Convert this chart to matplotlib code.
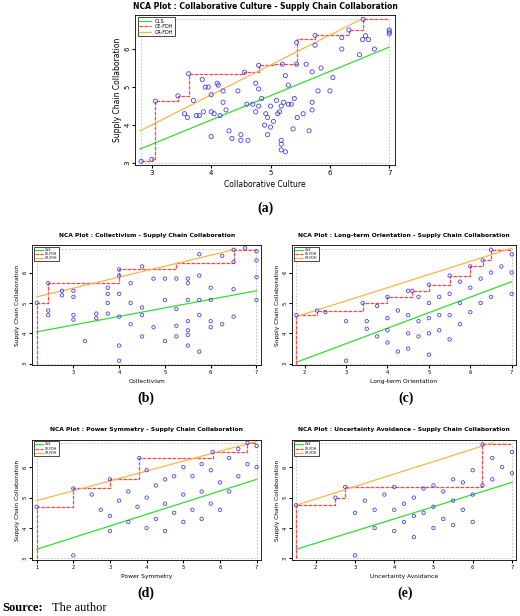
import matplotlib
matplotlib.use("Agg")
import matplotlib.pyplot as plt
import numpy as np

# ---- data ----
a_x = [2.82,3.0,3.06,3.44,3.62,3.55,3.6,3.7,3.75,3.8,3.85,3.87,3.9,3.95,4.0,4.0,4.0,4.05,4.1,4.12,4.15,4.2,4.2,4.25,4.3,4.35,4.45,4.5,4.5,4.56,4.6,4.62,4.7,4.75,4.75,4.8,4.8,4.8,4.85,4.9,4.92,4.95,4.95,5.0,5.0,5.05,5.1,5.12,5.15,5.18,5.18,5.18,5.18,5.2,5.22,5.25,5.25,5.3,5.3,5.35,5.38,5.4,5.44,5.44,5.45,5.55,5.6,5.65,5.7,5.7,5.7,5.75,5.75,5.8,5.85,6.0,6.05,6.2,6.2,6.32,6.5,6.55,6.56,6.6,6.65,6.75,7.0,7.0,7.0]
a_y = [3.05,3.1,4.63,4.77,5.35,4.3,4.2,4.65,4.25,4.25,5.2,4.35,5.0,5.0,4.8,4.35,3.7,4.3,5.1,5.05,4.25,4.9,4.6,4.4,3.85,3.65,4.9,3.75,3.6,5.39,4.55,3.6,4.55,5.1,4.35,5.57,4.95,4.5,4.7,4.0,4.3,4.2,3.75,4.5,3.95,4.1,4.65,4.3,4.35,4.5,3.5,3.35,3.6,5.6,4.6,5.3,3.3,5.05,4.55,4.55,3.9,4.7,5.6,6.17,4.2,4.3,5.6,3.85,5.4,4.4,4.6,6.36,6.1,4.9,5.5,4.9,5.25,6.3,6.0,6.5,5.85,6.25,6.78,6.35,6.25,6.0,6.4,6.45,6.5]
a_step_x = [2.82,3.0,3.06,3.44,3.62,4.56,4.8,5.05,5.44,5.75,6.32,6.56,7.0]
a_step_y = [3.05,3.1,4.63,4.77,5.35,5.39,5.57,5.6,6.27,6.36,6.5,6.78,6.78]
a_ols = ([2.8,7.0],[3.37,6.05]); a_cr = ([2.8,6.55],[3.85,6.8])

b_x = [2.2,2.45,2.45,2.45,2.75,2.75,3.0,3.0,3.0,3.0,3.25,3.5,3.5,3.75,3.75,3.75,3.75,4.0,4.0,4.0,4.0,4.0,4.0,4.25,4.25,4.25,4.5,4.5,4.5,4.5,4.75,4.75,5.0,5.0,5.0,5.25,5.25,5.25,5.25,5.5,5.5,5.5,5.5,5.5,5.5,5.5,5.75,5.75,5.75,5.75,5.75,6.0,6.0,6.0,6.0,6.25,6.25,6.5,6.5,6.5,6.5,6.75,7.0,7.0,7.0,7.0]
b_y = [5.0,5.65,4.75,4.6,5.4,5.25,5.4,5.2,4.6,4.45,3.75,4.65,4.5,5.5,5.3,5.0,4.65,6.1,5.9,5.3,4.55,3.6,3.1,5.65,5.0,4.3,6.2,4.85,4.6,3.9,5.8,4.2,5.8,5.1,3.75,5.8,4.8,4.25,3.9,5.8,5.65,5.1,4.4,4.1,3.95,3.6,6.6,5.9,5.1,4.6,3.4,5.5,5.1,4.4,4.2,6.55,4.3,6.75,6.35,5.45,4.55,6.8,6.7,6.4,5.85,5.1]
b_step_x = [2.2,2.2,2.45,4.0,5.25,6.5,7.0]
b_step_y = [3.0,5.0,5.65,6.1,6.3,6.75,6.75]
b_ols = ([2.2,7.0],[4.05,5.4]); b_cr = ([2.2,6.5],[5.2,6.75])

c_x = [1.8,2.3,2.5,3.0,3.0,3.4,3.5,3.5,3.75,3.75,4.0,4.0,4.0,4.0,4.25,4.25,4.5,4.5,4.5,4.5,4.6,4.75,4.75,4.75,5.0,5.0,5.0,5.0,5.0,5.25,5.25,5.25,5.5,5.5,5.5,5.5,5.75,5.75,5.75,6.0,6.0,6.0,6.25,6.25,6.3,6.5,6.5,6.5,6.75,7.0,7.0,7.0]
c_y = [4.6,4.75,4.7,3.1,4.4,5.0,4.4,4.15,4.9,3.9,5.2,4.5,4.1,3.7,4.75,3.4,5.4,4.6,4.0,3.5,5.4,5.2,4.4,3.9,5.6,5.0,4.5,4.0,3.3,5.2,4.6,4.1,5.9,5.3,4.6,3.8,5.7,5.0,4.3,6.2,5.5,4.7,5.8,5.0,6.4,6.75,6.0,5.2,6.2,6.6,6.0,5.3]
c_step_x = [1.8,1.8,2.3,3.4,4.0,4.6,5.0,5.5,6.0,6.3,6.5,7.0]
c_step_y = [3.0,4.6,4.75,5.0,5.2,5.4,5.6,5.9,6.2,6.4,6.75,6.75]
c_ols = ([1.8,7.0],[3.05,5.7]); c_cr = ([1.8,7.0],[4.55,6.8])

d_x = [1.0,2.0,2.0,2.5,2.75,3.0,3.0,3.0,3.25,3.5,3.5,3.75,3.8,4.0,4.0,4.0,4.25,4.25,4.5,4.5,4.5,4.75,4.75,5.0,5.0,5.0,5.25,5.25,5.5,5.5,5.5,5.75,5.75,5.8,6.0,6.0,6.25,6.25,6.5,6.5,6.75,6.75,7.0,7.0]
d_y = [4.7,5.3,3.1,5.1,4.6,5.6,4.4,3.9,4.9,5.2,4.2,4.7,6.3,5.9,5.0,4.0,5.4,4.3,5.6,4.8,3.9,5.7,4.5,6.0,5.1,4.2,5.7,4.6,6.1,5.2,4.3,5.9,4.8,6.5,5.5,4.6,6.3,5.2,6.6,5.7,6.8,6.1,6.7,6.0]
d_step_x = [1.0,1.0,2.0,3.0,3.8,5.8,6.75,7.0]
d_step_y = [3.0,4.7,5.3,5.6,6.3,6.5,6.8,6.8]
d_ols = ([1.0,7.0],[3.3,5.6]); d_cr = ([1.0,7.0],[4.9,6.85])

e_x = [1.5,2.5,2.75,3.0,3.0,3.25,3.5,3.5,3.75,4.0,4.0,4.0,4.25,4.25,4.5,4.5,4.5,4.75,4.75,5.0,5.0,5.0,5.25,5.25,5.5,5.5,5.5,5.75,5.75,6.0,6.0,6.0,6.25,6.25,6.5,6.5,6.75,7.0,7.0]
e_y = [4.75,5.0,5.35,4.5,3.1,4.9,4.6,4.0,5.1,5.35,4.6,3.9,4.8,4.2,5.0,4.4,3.7,5.3,4.5,5.4,4.7,4.0,5.2,4.3,5.6,4.9,4.1,5.5,4.6,5.9,5.1,4.2,6.75,5.4,6.3,5.6,6.0,6.5,5.8]
e_step_x = [1.5,1.5,2.5,2.75,6.25,7.0]
e_step_y = [3.0,4.75,5.0,5.35,6.75,6.75]
e_ols = ([1.5,7.0],[3.3,5.5]); e_cr = ([1.5,6.5],[4.75,6.8])

panels = [
    ("Collaborative Culture", a_x, a_y, a_step_x, a_step_y, a_ols, a_cr, [3,4,5,6,7], (2.72,7.1), "(a)"),
    ("Collectivism", b_x, b_y, b_step_x, b_step_y, b_ols, b_cr, [3,4,5,6,7], (2.1,7.1), "(b)"),
    ("Long-term Orientation", c_x, c_y, c_step_x, c_step_y, c_ols, c_cr, [2,3,4,5,6,7], (1.7,7.1), "(c)"),
    ("Power Symmetry", d_x, d_y, d_step_x, d_step_y, d_ols, d_cr, [1,2,3,4,5,6,7], (0.88,7.12), "(d)"),
    ("Uncertainty Avoidance", e_x, e_y, e_step_x, e_step_y, e_ols, e_cr, [2,3,4,5,6,7], (1.4,7.1), "(e)"),
]

fig = plt.figure(figsize=(5.2, 6.16), dpi=100)
rects = [(0.26,0.732,0.50,0.244),(0.062,0.407,0.44,0.195),(0.562,0.407,0.43,0.195),
         (0.062,0.091,0.44,0.195),(0.562,0.091,0.43,0.195)]
labpos = [(0.51,0.662),(0.28,0.354),(0.78,0.354),(0.28,0.037),(0.78,0.037)]

for i,(name,x,y,sx,sy,ols,cr,xt,xl,lab) in enumerate(panels):
    big = i == 0
    fs = 5.0 if big else 3.8
    ax = fig.add_axes(rects[i])
    ax.set_xlim(*xl); ax.set_ylim(2.95, 6.9)
    x0, x1 = min(x+sx), max(x+sx)
    ax.plot([x0,x1,x1,x0,x0],[3.0,3.0,6.78,6.78,3.0], ls=(0,(2,2)), color="#bbbbbb", lw=0.6)
    ax.plot(*ols, color="#33dd33", lw=0.9, label="OLS")
    ax.step(sx, sy, where="post", color="#ff4444", lw=0.9, ls=(0,(3,1)), label="CE-FDH")
    ax.plot(*cr, color="#ffb347", lw=0.9, label="CR-FDH")
    ax.scatter(x, y, s=9 if big else 6, facecolors="none", edgecolors="#4444ee", lw=0.6, zorder=3)
    ax.set_xticks(xt); ax.set_yticks([3,4,5,6])
    ax.tick_params(labelsize=fs, length=2, pad=1.5)
    for t in ax.get_yticklabels():
        t.set_rotation(90); t.set_va("center")
    ax.set_xlabel(name, fontsize=fs+0.5, labelpad=3)
    ax.set_ylabel("Supply Chain Collaboration", fontsize=fs+0.5, labelpad=2)
    ax.set_title("NCA Plot : " + name + " - Supply Chain Collaboration", fontsize=fs+0.5,
                 fontweight="bold", pad=4 if big else 6)
    leg = ax.legend(loc="upper left", fontsize=fs-1.5, fancybox=False, edgecolor="black",
                    borderpad=0.3, handlelength=2.5, labelspacing=0.1, framealpha=1)
    leg.get_frame().set_linewidth(0.5)
    for s in ax.spines.values():
        s.set_linewidth(0.6)
    fig.text(labpos[i][0], labpos[i][1], lab, fontsize=10, fontweight="bold",
             family="Liberation Serif", ha="center", va="center")

fig.text(0.005, 0.013, "Source:", fontsize=9, fontweight="bold", family="Liberation Serif", va="center")
fig.text(0.1, 0.013, "The author", fontsize=9, family="Liberation Serif", va="center")
fig.savefig("out.png", dpi=100)
